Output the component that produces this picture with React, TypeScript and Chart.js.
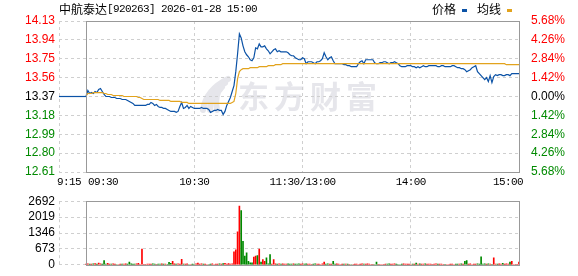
import React, { useEffect, useRef } from "react";
import { Chart, registerables } from "chart.js";
Chart.register(...registerables);

const STOCK_NAME = "中航泰达";
const TITLE_REST = "[920263] 2026-01-28 15:00";
const LEGEND_LABELS = ["价格", "均线"];
const WATERMARK = "东方财富";
const PREV_CLOSE = 13.37;

const PRICE_TICKS = [12.61, 12.8, 12.99, 13.18, 13.37, 13.56, 13.75, 13.94, 14.13];
const PCT_LABELS = ["5.68%", "4.26%", "2.84%", "1.42%", "0.00%", "1.42%", "2.84%", "4.26%", "5.68%"];
const VOL_TICKS = [0, 673, 1346, 2019, 2692];
const TIME_LABELS = ["9:15", "09:30", "10:30", "11:30/13:00", "14:00", "15:00"];
const TIME_TICKS = [-15, 0, 60, 120, 180, 240];
const GRID_TIMES = [-15, 60, 120, 180];

const PREMARKET_TIMES = [-15, 0];
const PREMARKET_PRICES = [13.37, 13.37];

const prices = [
  13.37, 13.43, 13.4, 13.41, 13.4, 13.42, 13.41, 13.44, 13.45, 13.42,
  13.39, 13.37, 13.37, 13.37, 13.36, 13.36, 13.36, 13.35, 13.35, 13.35,
  13.34, 13.34, 13.34, 13.33, 13.32, 13.31, 13.3, 13.28, 13.28, 13.28,
  13.28, 13.28, 13.28, 13.28, 13.29, 13.29, 13.31, 13.3, 13.28, 13.29,
  13.27, 13.26, 13.26, 13.25, 13.25, 13.24, 13.23, 13.22, 13.22, 13.22,
  13.21, 13.22, 13.27, 13.31, 13.25, 13.26, 13.28, 13.25, 13.27, 13.26,
  13.25, 13.25, 13.25, 13.25, 13.26, 13.25, 13.25, 13.25, 13.24, 13.21,
  13.22, 13.23, 13.23, 13.24, 13.23, 13.23, 13.19, 13.22, 13.28, 13.32,
  13.36, 13.42, 13.48, 13.62, 13.8, 14.0, 13.96, 13.88, 13.82, 13.79,
  13.77, 13.74, 13.73, 13.76, 13.86, 13.85, 13.9, 13.87, 13.87, 13.88,
  13.85, 13.83, 13.8, 13.82, 13.84, 13.85, 13.82, 13.83, 13.82, 13.82,
  13.82, 13.82, 13.81, 13.79, 13.78, 13.78, 13.76, 13.75, 13.74, 13.74,
  13.76, 13.75, 13.7, 13.72, 13.72, 13.72, 13.71, 13.7, 13.72, 13.72,
  13.73, 13.75, 13.81, 13.77, 13.74, 13.76, 13.77, 13.73, 13.7, 13.7,
  13.7, 13.7, 13.7, 13.69, 13.69, 13.68, 13.68, 13.67, 13.67, 13.67,
  13.67, 13.7, 13.72, 13.73, 13.7, 13.74, 13.74, 13.74, 13.74, 13.74,
  13.71, 13.7, 13.7, 13.71, 13.71, 13.72, 13.72, 13.71, 13.7, 13.71,
  13.71, 13.72, 13.71, 13.7, 13.68, 13.67, 13.67, 13.67, 13.68, 13.68,
  13.68, 13.67, 13.67, 13.66, 13.67, 13.66, 13.67, 13.68, 13.67, 13.67,
  13.68, 13.68, 13.68, 13.68, 13.68, 13.67, 13.67, 13.68, 13.68, 13.67,
  13.67, 13.67, 13.67, 13.68, 13.68, 13.67, 13.66, 13.66, 13.65, 13.65,
  13.64, 13.62, 13.63, 13.64, 13.66, 13.67, 13.68, 13.62, 13.6, 13.58,
  13.56, 13.54, 13.56, 13.52, 13.58, 13.51, 13.57, 13.59, 13.58, 13.59,
  13.59, 13.58, 13.58, 13.59, 13.59, 13.58, 13.6, 13.6, 13.6, 13.6,
  13.6,
];

const avgPrices = [
  13.38, 13.4, 13.4, 13.4, 13.41, 13.41, 13.41, 13.41, 13.41, 13.41,
  13.4, 13.4, 13.39, 13.39, 13.39, 13.38, 13.38, 13.38, 13.38, 13.38,
  13.38, 13.37, 13.37, 13.37, 13.37, 13.37, 13.37, 13.37, 13.37, 13.36,
  13.36, 13.35, 13.34, 13.34, 13.34, 13.34, 13.34, 13.34, 13.34, 13.34,
  13.34, 13.33, 13.33, 13.33, 13.33, 13.33, 13.33, 13.32, 13.32, 13.32,
  13.32, 13.32, 13.32, 13.31, 13.31, 13.31, 13.31, 13.3, 13.3, 13.3,
  13.3, 13.3, 13.3, 13.3, 13.3, 13.3, 13.3, 13.3, 13.3, 13.3,
  13.3, 13.3, 13.3, 13.3, 13.3, 13.3, 13.3, 13.3, 13.3, 13.3,
  13.3, 13.31, 13.32, 13.4, 13.55, 13.62, 13.64, 13.65, 13.65, 13.65,
  13.65, 13.66, 13.66, 13.66, 13.66, 13.66, 13.67, 13.67, 13.67, 13.67,
  13.67, 13.68, 13.68, 13.68, 13.68, 13.69, 13.69, 13.69, 13.69, 13.7,
  13.7, 13.7, 13.7, 13.7, 13.7, 13.7, 13.7, 13.7, 13.7, 13.7,
  13.7, 13.7, 13.7, 13.7, 13.7, 13.7, 13.7, 13.7, 13.7, 13.7,
  13.7, 13.7, 13.7, 13.7, 13.7, 13.7, 13.7, 13.7, 13.7, 13.7,
  13.7, 13.7, 13.7, 13.7, 13.7, 13.7, 13.7, 13.7, 13.7, 13.7,
  13.7, 13.7, 13.7, 13.7, 13.7, 13.7, 13.7, 13.7, 13.7, 13.7,
  13.7, 13.7, 13.7, 13.7, 13.7, 13.7, 13.7, 13.7, 13.7, 13.7,
  13.7, 13.7, 13.7, 13.7, 13.7, 13.7, 13.7, 13.7, 13.7, 13.7,
  13.7, 13.7, 13.7, 13.7, 13.7, 13.7, 13.7, 13.7, 13.7, 13.7,
  13.7, 13.7, 13.7, 13.7, 13.7, 13.7, 13.7, 13.7, 13.7, 13.7,
  13.7, 13.7, 13.7, 13.7, 13.7, 13.7, 13.7, 13.7, 13.7, 13.7,
  13.7, 13.7, 13.7, 13.7, 13.7, 13.7, 13.7, 13.7, 13.7, 13.7,
  13.7, 13.7, 13.7, 13.7, 13.7, 13.7, 13.7, 13.7, 13.7, 13.7,
  13.7, 13.7, 13.7, 13.69, 13.69, 13.69, 13.69, 13.69, 13.69, 13.69,
  13.69,
];

const volumes = [
  30, 40, 30, 30, 40, 50, 30, 70, 40, 30,
  180, 30, 60, 30, 30, 40, 30, 0, 0, 30,
  30, 30, 40, 30, 110, 40, 30, 30, 40, 60,
  0, 665, 0, 0, 30, 30, 30, 40, 30, 0,
  30, 30, 40, 30, 30, 0, 100, 60, 145, 40,
  30, 40, 30, 230, 30, 30, 40, 0, 0, 30,
  0, 40, 70, 30, 40, 30, 30, 0, 0, 30,
  40, 0, 30, 30, 40, 30, 50, 60, 30, 50,
  30, 40, 545, 630, 1395, 2490, 2300, 995, 365, 510,
  145, 85, 85, 330, 365, 390, 665, 120, 220, 145,
  300, 40, 435, 30, 220, 40, 30, 40, 30, 40,
  30, 30, 40, 30, 30, 40, 30, 30, 40, 30,
  40, 30, 40, 30, 30, 0, 30, 40, 30, 30,
  0, 40, 110, 30, 40, 30, 30, 145, 30, 40,
  30, 0, 30, 30, 30, 30, 0, 0, 0, 30,
  30, 0, 30, 40, 30, 30, 40, 30, 0, 0,
  0, 110, 0, 0, 0, 0, 30, 30, 40, 30,
  30, 40, 30, 0, 0, 30, 40, 30, 30, 30,
  0, 30, 30, 75, 30, 40, 30, 30, 40, 30,
  30, 30, 0, 30, 40, 30, 30, 30, 0, 0,
  0, 0, 30, 30, 0, 30, 30, 30, 40, 30,
  145, 180, 30, 40, 0, 30, 30, 40, 30, 340,
  30, 40, 30, 40, 30, 0, 290, 30, 30, 40,
  30, 60, 30, 40, 30, 120, 145, 0, 0, 0,
  110,
];

const BLUE = "#0b52a6";
const ORANGE = "#e2a31d";
const RED = "#ff0000";
const GREEN = "#008a00";
const GRID = "#cfcfcf";
const BOX = "#999999";
const WM = "#e6e6eb";
const TICK_FONT = { family: "'Liberation Sans', Arial, sans-serif", size: 12 };
const MONO = "'Liberation Mono', 'DejaVu Sans Mono', monospace";
const CJK = "'Noto Sans CJK SC', sans-serif";

function priceColor(v: number) {
  if (v > PREV_CLOSE + 1e-6) return RED;
  if (v < PREV_CLOSE - 1e-6) return GREEN;
  return "#000000";
}

function drawBox(chart: any) {
  const { ctx, chartArea } = chart;
  const xs = chart.scales.x;
  const l = Math.round(xs.getPixelForValue(0)) + 0.5;
  const r = Math.round(xs.getPixelForValue(240)) + 0.5;
  const t = Math.round(chartArea.top) + 0.5;
  const b = Math.round(chartArea.bottom) + 0.5;
  ctx.save();
  ctx.strokeStyle = BOX;
  ctx.lineWidth = 1;
  ctx.setLineDash([]);
  ctx.strokeRect(l, t, r - l, b - t);
  ctx.restore();
}

const priceDecor = {
  id: "priceDecor",
  beforeDraw(chart: any) {
    const { ctx } = chart;
    ctx.save();
    ctx.fillStyle = "#ffffff";
    ctx.fillRect(0, 0, chart.width, chart.height);
    // watermark logo
    ctx.strokeStyle = WM;
    ctx.lineCap = "round";
    ctx.lineWidth = 6;
    for (let i = 0; i < 3; i++) {
      ctx.beginPath();
      ctx.moveTo(228 - i * 3, 79 + i * 4);
      ctx.quadraticCurveTo(206 + i * 4, 90 + i * 2, 203 + i * 7, 110);
      ctx.stroke();
    }
    ctx.fillStyle = WM;
    ctx.font = `bold 31px ${CJK}`;
    ctx.textBaseline = "alphabetic";
    ctx.textAlign = "left";
    (ctx as any).letterSpacing = "5px";
    ctx.fillText(WATERMARK, 238, 108);
    ctx.restore();
  },
  afterDatasetsDraw(chart: any) {
    drawBox(chart);
  },
  afterDraw(chart: any) {
    const { ctx } = chart;
    const xs = chart.scales.x;
    ctx.save();
    ctx.textBaseline = "middle";
    ctx.fillStyle = "#000000";
    // title
    ctx.textAlign = "left";
    ctx.font = `12px ${CJK}`;
    ctx.fillText(STOCK_NAME, 59, 9);
    const nameW = ctx.measureText(STOCK_NAME).width;
    ctx.font = `11px ${MONO}`;
    (ctx as any).letterSpacing = "-0.6px";
    ctx.fillText(TITLE_REST, 59 + nameW, 9);
    (ctx as any).letterSpacing = "0px";
    // legend
    ctx.font = `12px ${CJK}`;
    ctx.fillText(LEGEND_LABELS[0], 432, 9);
    ctx.fillStyle = BLUE;
    ctx.fillRect(462, 9, 5, 3);
    ctx.fillStyle = "#000000";
    ctx.fillText(LEGEND_LABELS[1], 477, 9);
    ctx.fillStyle = ORANGE;
    ctx.fillRect(507, 9, 5, 3);
    // time labels
    ctx.fillStyle = "#000000";
    ctx.font = `11px ${MONO}`;
    (ctx as any).letterSpacing = "-0.6px";
    const aligns = ["left", "left", "center", "center", "center", "right"];
    const offs = [-2, 2, 0, 0, 0, 4];
    TIME_LABELS.forEach((lab, i) => {
      ctx.textAlign = aligns[i];
      ctx.fillText(lab, xs.getPixelForValue(TIME_TICKS[i]) + offs[i], 182.5);
    });
    ctx.restore();
  },
};

const volDecor = {
  id: "volDecor",
  beforeDraw(chart: any) {
    const { ctx } = chart;
    ctx.save();
    ctx.fillStyle = "#ffffff";
    ctx.fillRect(0, 0, chart.width, chart.height);
    ctx.restore();
  },
  afterDatasetsDraw(chart: any) {
    drawBox(chart);
  },
};

const xScale = {
  type: "linear",
  min: -15,
  max: 240,
  offset: false,
  ticks: { display: false },
  grid: { color: GRID, drawTicks: false, offset: false },
  border: { display: false, dash: [3, 3] },
  afterBuildTicks: (s: any) => {
    s.ticks = GRID_TIMES.map((v) => ({ value: v }));
  },
  afterFit: (s: any) => {
    s.height = 0;
  },
};

export default function App() {
  const priceRef = useRef<HTMLCanvasElement>(null);
  const volRef = useRef<HTMLCanvasElement>(null);

  useEffect(() => {
    const priceTicks = (s: any) => {
      s.ticks = PRICE_TICKS.map((v) => ({ value: v }));
    };
    const pc = new Chart(priceRef.current as HTMLCanvasElement, {
      type: "line",
      data: {
        datasets: [
          {
            data: PREMARKET_TIMES.map((t, i) => ({ x: t, y: PREMARKET_PRICES[i] })),
            borderColor: BLUE,
            borderWidth: 1.2,
            pointRadius: 0,
            tension: 0,
          },
          {
            data: avgPrices.map((p, i) => ({ x: i, y: p })),
            borderColor: ORANGE,
            borderWidth: 1.2,
            pointRadius: 0,
            tension: 0,
          },
          {
            data: prices.map((p, i) => ({ x: i, y: p })),
            borderColor: BLUE,
            borderWidth: 1.2,
            pointRadius: 0,
            tension: 0,
          },
        ],
      } as any,
      options: {
        responsive: false,
        animation: false,
        events: [],
        layout: { padding: { top: 21, bottom: 18, left: 0, right: 0 } },
        plugins: { legend: { display: false }, tooltip: { enabled: false }, title: { display: false } },
        scales: {
          x: xScale as any,
          y: {
            type: "linear",
            position: "left",
            min: 12.61,
            max: 14.13,
            afterBuildTicks: priceTicks,
            afterFit: (s: any) => {
              s.width = 59;
            },
            ticks: {
              autoSkip: false,
              padding: 4,
              font: TICK_FONT,
              color: (c: any) => priceColor(c.tick ? c.tick.value : PREV_CLOSE),
              callback: (v: any) => Number(v).toFixed(2),
            },
            grid: { color: GRID, drawTicks: false },
            border: { display: false, dash: [3, 3] },
          },
          y2: {
            type: "linear",
            position: "right",
            min: 12.61,
            max: 14.13,
            afterBuildTicks: priceTicks,
            afterFit: (s: any) => {
              s.width = 59;
            },
            ticks: {
              autoSkip: false,
              padding: 4,
              font: TICK_FONT,
              color: (c: any) => priceColor(c.tick ? c.tick.value : PREV_CLOSE),
              callback: (v: any) => {
                const idx = PRICE_TICKS.findIndex((t) => Math.abs(t - Number(v)) < 1e-6);
                return PCT_LABELS[PRICE_TICKS.length - 1 - idx];
              },
            },
            grid: { display: false },
            border: { display: false },
          },
        },
      } as any,
      plugins: [priceDecor],
    });

    const barColors = volumes.map((_, i) => {
      const prev = i === 0 ? PREV_CLOSE : prices[i - 1];
      return prices[i] >= prev ? RED : GREEN;
    });

    const vc = new Chart(volRef.current as HTMLCanvasElement, {
      type: "bar",
      data: {
        datasets: [
          {
            data: volumes.map((v, i) => ({ x: i, y: v })),
            backgroundColor: barColors,
            borderWidth: 0,
            barThickness: 1,
          },
        ],
      } as any,
      options: {
        responsive: false,
        animation: false,
        events: [],
        layout: { padding: { top: 6, bottom: 6, left: 0, right: 59 } },
        plugins: { legend: { display: false }, tooltip: { enabled: false }, title: { display: false } },
        scales: {
          x: xScale as any,
          y: {
            type: "linear",
            position: "left",
            min: 0,
            max: 2692,
            afterBuildTicks: (s: any) => {
              s.ticks = VOL_TICKS.map((v) => ({ value: v }));
            },
            afterFit: (s: any) => {
              s.width = 59;
            },
            ticks: {
              autoSkip: false,
              padding: 4,
              font: TICK_FONT,
              color: "#000000",
              callback: (v: any) => String(Math.round(Number(v))),
            },
            grid: { color: GRID, drawTicks: false },
            border: { display: false, dash: [3, 3] },
          },
        },
      } as any,
      plugins: [volDecor],
    });

    return () => {
      pc.destroy();
      vc.destroy();
    };
  }, []);

  return (
    <div style={{ position: "absolute", left: 0, top: 0, width: 578, height: 276, background: "#fff" }}>
      <canvas
        ref={priceRef}
        width={578}
        height={190}
        style={{ position: "absolute", left: 0, top: 0, display: "block" }}
      />
      <canvas
        ref={volRef}
        width={578}
        height={86}
        style={{ position: "absolute", left: 0, top: 190, display: "block" }}
      />
    </div>
  );
}
